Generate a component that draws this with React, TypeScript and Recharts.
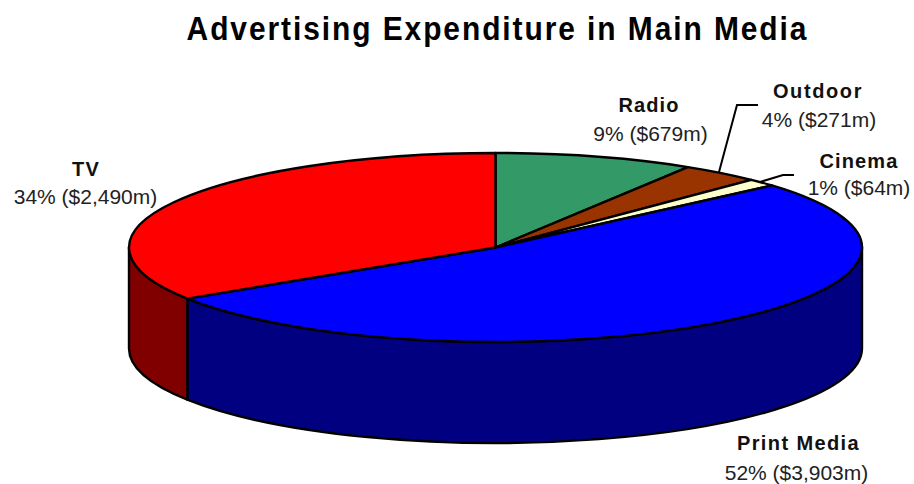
import React from "react";
import { PieChart, Pie } from "recharts";

const categories = ["Radio", "Outdoor", "Cinema", "Print Media", "TV"];
const shares = [8.8, 3.5, 1.3, 52.3, 34.1];
const valueLabels = ["9% ($679m)", "4% ($271m)", "1% ($64m)", "52% ($3,903m)", "34% ($2,490m)"];
const topColors = ["#339966", "#993300", "#FFFFCC", "#0000FF", "#FF0000"];
const wallColors = ["#1A4D33", "#4D1A00", "#808066", "#000080", "#800000"];

const data = categories.map((name, i) => ({ name, value: shares[i], fill: topColors[i], wall: wallColors[i] }));

const WIDTH = 914;
const HEIGHT = 484;
const CX = 495.5;
const CY = 247.5;
const RX = 366.5;
const RY = 94.5;
const DEPTH = 101;
const FONT = "'Liberation Sans', Arial, sans-serif";

const labelSpots = [
  { x1: 649, x2: 650.5, y1: 112, y2: 141, ls1: 1.1 },
  { x1: 818, x2: 819, y1: 98, y2: 127, ls1: 1.6 },
  { x1: 859, x2: 859, y1: 168, y2: 195, ls1: 1.1 },
  { x1: 798.5, x2: 796.5, y1: 450, y2: 480, ls1: 1.4 },
  { x1: 86, x2: 85.5, y1: 176, y2: 204, ls1: 1.1 },
];
const leaders = [
  null,
  "719,172 737,105 758,105",
  "760,182 783,175 794,175",
  null,
  null,
];

const pt = (cx: number, cy: number, rx: number, ry: number, deg: number) => {
  const a = (deg * Math.PI) / 180;
  return [cx + rx * Math.cos(a), cy - ry * Math.sin(a)];
};

function EllipseSlice(props: any) {
  const { cx, cy, outerRadius, startAngle, endAngle, fill, payload } = props;
  const rx = outerRadius;
  const ry = (outerRadius * RY) / RX;
  const s = pt(cx, cy, rx, ry, startAngle);
  const e = pt(cx, cy, rx, ry, endAngle);
  const large = Math.abs(startAngle - endAngle) > 180 ? 1 : 0;
  const top = `M${cx},${cy} L${s[0]},${s[1]} A${rx},${ry} 0 ${large} 1 ${e[0]},${e[1]} Z`;
  const wallStart = Math.min(startAngle, 0);
  const wallEnd = Math.max(endAngle, -180);
  let wall: string | null = null;
  if (wallStart > wallEnd) {
    const a = pt(cx, cy, rx, ry, wallStart);
    const b = pt(cx, cy, rx, ry, wallEnd);
    wall = `M${a[0]},${a[1]} A${rx},${ry} 0 0 1 ${b[0]},${b[1]} L${b[0]},${b[1] + DEPTH} A${rx},${ry} 0 0 0 ${a[0]},${a[1] + DEPTH} Z`;
  }
  return (
    <g>
      {wall && <path d={wall} fill={payload?.wall ?? props.wall} stroke="#000" strokeWidth={2.4} strokeLinejoin="round" />}
      <path d={top} fill={fill} stroke="#000" strokeWidth={2.4} strokeLinejoin="round" />
    </g>
  );
}

function SliceLabel(props: any) {
  const i = props.index;
  const spot = labelSpots[i];
  const line = leaders[i];
  return (
    <g>
      {line && <polyline points={line} fill="none" stroke="#000" strokeWidth={2} />}
      <text x={spot.x1} y={spot.y1} textAnchor="middle" fontFamily={FONT} fontSize={20} fontWeight={700} fill="#111" letterSpacing={spot.ls1}>
        {categories[i]}
      </text>
      <text x={spot.x2} y={spot.y2} textAnchor="middle" fontFamily={FONT} fontSize={21} fill="#222">
        {valueLabels[i]}
      </text>
    </g>
  );
}

export default function App() {
  return (
    <div style={{ position: "absolute", left: 0, top: 0, width: WIDTH, height: HEIGHT, background: "#fff" }}>
      <PieChart width={WIDTH} height={HEIGHT} margin={{ top: 0, right: 0, bottom: 0, left: 0 }}>
        <text transform="translate(497.5,40) scale(0.88,1)" textAnchor="middle" fontFamily={FONT} fontSize={34} fontWeight={700} fill="#000" letterSpacing={2.2}>
          Advertising Expenditure in Main Media
        </text>
        <Pie
          data={data}
          dataKey="value"
          nameKey="name"
          cx={CX}
          cy={CY}
          innerRadius={0}
          outerRadius={RX}
          startAngle={90}
          endAngle={-270}
          paddingAngle={0}
          isAnimationActive={false}
          shape={EllipseSlice}
          label={SliceLabel}
          labelLine={false}
        />
      </PieChart>
    </div>
  );
}
